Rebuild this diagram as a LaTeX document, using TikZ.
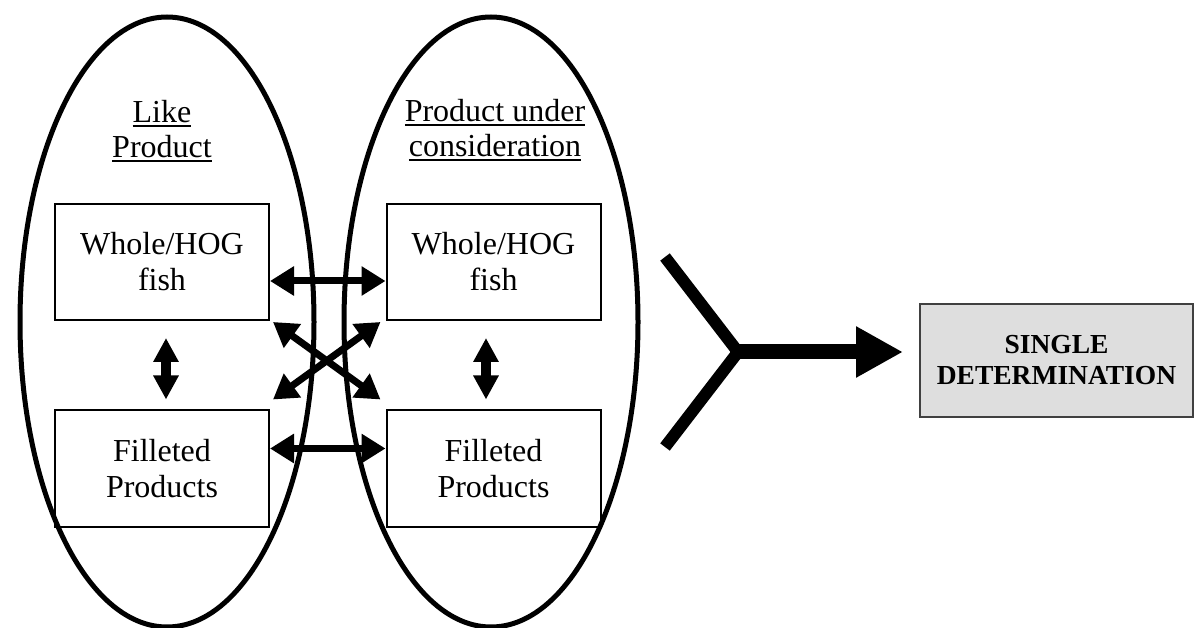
\documentclass[tikz,border=0pt]{standalone}
\usepackage{fontspec}
\setmainfont{Liberation Serif}
\usetikzlibrary{arrows.meta}
\newcommand{\myul}[1]{\vtop{\hbox{#1}\kern2.5pt\hrule height 2pt}}
\tikzset{
  container/.style={line width=5pt},
  prodbox/.style={draw, line width=2pt, minimum width=214pt, minimum height=116pt, align=center, inner sep=0pt, font=\fontsize{32}{36}\selectfont},
  titletext/.style={align=center, inner sep=0pt, font=\fontsize{32}{35}\selectfont},
  linkarrow/.style={line width=7pt, {Triangle[length=24pt,width=28pt]}-{Triangle[length=24pt,width=28pt]}},
  vertarrow/.style={line width=10pt, {Triangle[length=24pt,width=24pt]}-{Triangle[length=24pt,width=24pt]}},
  resultbox/.style={draw=black!75, fill=black!13, line width=2pt, minimum width=273pt, minimum height=113pt, align=center, inner sep=0pt, font=\fontsize{27.5}{31}\selectfont\bfseries}
}
\begin{document}
\begin{tikzpicture}[x=1pt,y=-1pt]
\useasboundingbox (0,0) rectangle (1195,628);
% containers
\draw[container] (167,322) ellipse [x radius=147, y radius=305];
\draw[container] (491,322) ellipse [x radius=147, y radius=305];
% titles
\node[titletext] (tl) at (162,131) {\myul{Like}\\\myul{Product}};
\node[titletext] (tr) at (495,130) {\myul{Product under}\\\myul{consideration}};
% boxes
\node[prodbox] (lt) at (162,262) {Whole/HOG\\fish};
\node[prodbox] (rt) at (493.5,262) {Whole/HOG\\fish};
\node[prodbox] (lb) at (162,468.5) {Filleted\\Products};
\node[prodbox] (rb) at (493.5,468.5) {Filleted\\Products};
% links
\draw[linkarrow] ([yshift=-19pt]lt.east) -- ([yshift=-19pt]rt.west);
\draw[linkarrow] ([yshift=20pt]lb.east) -- ([yshift=20pt]rb.west);
\draw[linkarrow] ([shift={(3,1)}]lt.south east) -- ([shift={(-5,-10)}]rb.north west);
\draw[linkarrow] ([shift={(-5,1)}]rt.south west) -- ([shift={(3,-10)}]lb.north east);
\draw[vertarrow] ([shift={(4,17)}]lt.south) -- ([shift={(4,-10)}]lb.north);
\draw[vertarrow] ([shift={(-7.5,17)}]rt.south) -- ([shift={(-7.5,-10)}]rb.north);
% result
\node[resultbox] (sd) at (1056.5,360.5) {SINGLE\\DETERMINATION};
\coordinate (j) at (738,352);
\coordinate (a1) at (665,257);
\coordinate (a2) at (665,447);
\draw[line width=12pt, line join=miter] (a1) -- (j) -- (a2);
\draw[line width=15pt, -{Triangle[length=47pt,width=48pt]}] (j) -- ([xshift=-16pt]sd.west |- j);
\end{tikzpicture}
\end{document}
